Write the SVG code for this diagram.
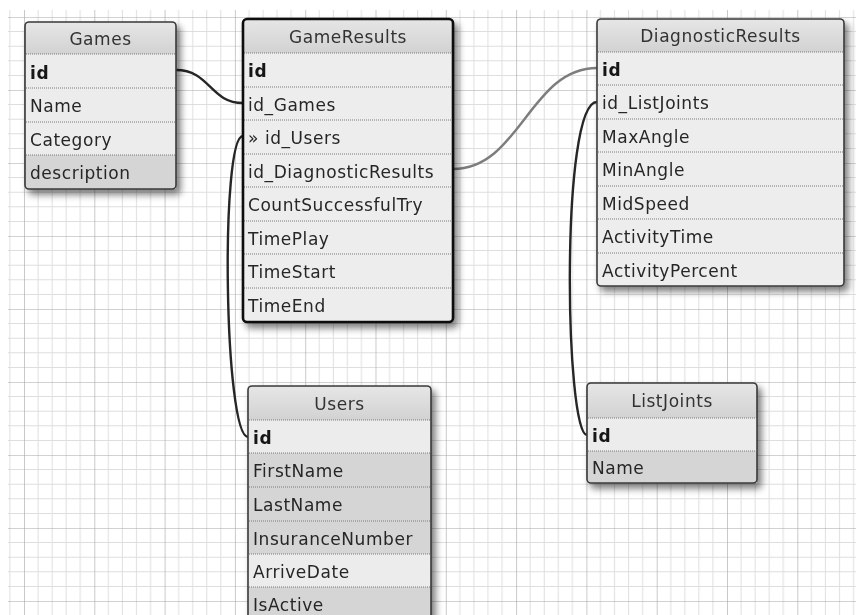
<svg xmlns="http://www.w3.org/2000/svg" width="856" height="615" viewBox="0 0 856 615">
  <style>
    text { font-family: "DejaVu Sans", Verdana, sans-serif; font-size: 17px; letter-spacing: 0.55px; fill: #262626; }
    .hd { text-anchor: middle; fill: #333; }
    .pk { font-weight: bold; fill: #161616; }
    .lt { fill: #ececec; }
    .dk { fill: #d5d5d5; }
    .sep { stroke: #7a7a7a; stroke-width: 1; stroke-dasharray: 1 1; }
    .frame { fill: none; stroke: #3a3a3a; stroke-width: 1.6; }
    .frame.sel { stroke: #111; stroke-width: 2.6; }
    .link { fill: none; stroke: #262626; stroke-width: 2.4; }
    .link.soft { stroke: #7d7d7d; }
  </style>
  <defs>
    <pattern id="grid" patternUnits="userSpaceOnUse" x="24" y="17" width="70.3" height="73">
      <g stroke="#dedede" stroke-width="1">
        <line x1="14.06" y1="0" x2="14.06" y2="73"/>
        <line x1="28.12" y1="0" x2="28.12" y2="73"/>
        <line x1="42.18" y1="0" x2="42.18" y2="73"/>
        <line x1="56.24" y1="0" x2="56.24" y2="73"/>
        <line x1="0" y1="14.6" x2="70.3" y2="14.6"/>
        <line x1="0" y1="29.2" x2="70.3" y2="29.2"/>
        <line x1="0" y1="43.8" x2="70.3" y2="43.8"/>
        <line x1="0" y1="58.4" x2="70.3" y2="58.4"/>
      </g>
      <g stroke="#a6a6a6" stroke-width="1.2">
        <line x1="0" y1="0" x2="0" y2="73"/>
        <line x1="0" y1="0" x2="70.3" y2="0"/>
      </g>
    </pattern>
    <linearGradient id="head" x1="0" y1="0" x2="0" y2="1">
      <stop offset="0" stop-color="#e6e6e6"/>
      <stop offset="1" stop-color="#d2d2d2"/>
    </linearGradient>
    <filter id="shadow" x="-10%" y="-10%" width="130%" height="130%">
      <feGaussianBlur in="SourceAlpha" stdDeviation="3.5"/>
      <feOffset dx="4" dy="5" result="b"/>
      <feComponentTransfer><feFuncA type="linear" slope="0.5"/></feComponentTransfer>
      <feMerge><feMergeNode/><feMergeNode in="SourceGraphic"/></feMerge>
    </filter>
  </defs>

  <!-- canvas -->
  <rect width="856" height="615" fill="#fff"/>
  <rect x="8" y="10" width="848" height="605" fill="url(#grid)"/>

  <!-- relations -->
  <g id="connectors">
    <path class="link" d="M176,70 C210,70 210,103 243,103"/>
    <path class="link" d="M243,136 C220,136 224,437 248,437"/>
    <path class="link soft" d="M453,169 C520,169 530,68 597,68"/>
    <path class="link" d="M597,102 C560,102 565,435 587,435"/>
  </g>

  <!-- Games -->
  <g id="Games" filter="url(#shadow)">
    <rect x="25" y="22" width="151" height="167" rx="4" fill="#ececec"/>
    <rect x="25" y="22" width="151" height="32" fill="url(#head)"/>
    <rect x="25" y="54" width="151" height="101" class="lt"/>
    <rect x="25" y="155" width="151" height="34" class="dk"/>
    <line class="sep" x1="26" y1="54" x2="175" y2="54"/>
    <line class="sep" x1="26" y1="88" x2="175" y2="88"/>
    <line class="sep" x1="26" y1="122" x2="175" y2="122"/>
    <line class="sep" x1="26" y1="155" x2="175" y2="155"/>
    <rect x="25" y="22" width="151" height="167" rx="4" class="frame"/>
    <text class="hd" x="100.5" y="45">Games</text>
    <text class="pk" x="30" y="79">id</text>
    <text x="30" y="112">Name</text>
    <text x="30" y="146">Category</text>
    <text x="30" y="179">description</text>
  </g>

  <!-- GameResults -->
  <g id="GameResults" filter="url(#shadow)">
    <rect x="243" y="19" width="210" height="303" rx="4" fill="#ededed"/>
    <rect x="243" y="19" width="210" height="34" fill="url(#head)"/>
    <line class="sep" x1="244" y1="53" x2="452" y2="53"/>
    <line class="sep" x1="244" y1="87" x2="452" y2="87"/>
    <line class="sep" x1="244" y1="120" x2="452" y2="120"/>
    <line class="sep" x1="244" y1="154" x2="452" y2="154"/>
    <line class="sep" x1="244" y1="187" x2="452" y2="187"/>
    <line class="sep" x1="244" y1="221" x2="452" y2="221"/>
    <line class="sep" x1="244" y1="254" x2="452" y2="254"/>
    <line class="sep" x1="244" y1="288" x2="452" y2="288"/>
    <rect x="243" y="19" width="210" height="303" rx="4" class="frame sel"/>
    <text class="hd" x="348" y="43">GameResults</text>
    <text class="pk" x="248" y="77">id</text>
    <text x="248" y="111">id_Games</text>
    <text x="248" y="144">» id_Users</text>
    <text x="248" y="178">id_DiagnosticResults</text>
    <text x="248" y="211">CountSuccessfulTry</text>
    <text x="248" y="245">TimePlay</text>
    <text x="248" y="278">TimeStart</text>
    <text x="248" y="312">TimeEnd</text>
  </g>

  <!-- DiagnosticResults -->
  <g id="DiagnosticResults" filter="url(#shadow)">
    <rect x="597" y="19" width="247" height="267" rx="4" fill="#ededed"/>
    <rect x="597" y="19" width="247" height="33" fill="url(#head)"/>
    <line class="sep" x1="598" y1="52" x2="843" y2="52"/>
    <line class="sep" x1="598" y1="85" x2="843" y2="85"/>
    <line class="sep" x1="598" y1="119" x2="843" y2="119"/>
    <line class="sep" x1="598" y1="152" x2="843" y2="152"/>
    <line class="sep" x1="598" y1="186" x2="843" y2="186"/>
    <line class="sep" x1="598" y1="219" x2="843" y2="219"/>
    <line class="sep" x1="598" y1="253" x2="843" y2="253"/>
    <rect x="597" y="19" width="247" height="267" rx="4" class="frame"/>
    <text class="hd" x="720.5" y="42">DiagnosticResults</text>
    <text class="pk" x="602" y="76">id</text>
    <text x="602" y="109">id_ListJoints</text>
    <text x="602" y="143">MaxAngle</text>
    <text x="602" y="176">MinAngle</text>
    <text x="602" y="210">MidSpeed</text>
    <text x="602" y="243">ActivityTime</text>
    <text x="602" y="277">ActivityPercent</text>
  </g>

  <!-- Users -->
  <g id="Users" filter="url(#shadow)">
    <rect x="248" y="386" width="183" height="240" rx="4" fill="#d5d5d5"/>
    <rect x="248" y="386" width="183" height="34" fill="url(#head)"/>
    <rect x="248" y="420" width="183" height="33" class="lt"/>
    <rect x="248" y="453" width="183" height="101" class="dk"/>
    <rect x="248" y="554" width="183" height="33" class="lt"/>
    <rect x="248" y="587" width="183" height="39" class="dk"/>
    <line class="sep" x1="249" y1="420" x2="430" y2="420"/>
    <line class="sep" x1="249" y1="453" x2="430" y2="453"/>
    <line class="sep" x1="249" y1="487" x2="430" y2="487"/>
    <line class="sep" x1="249" y1="521" x2="430" y2="521"/>
    <line class="sep" x1="249" y1="554" x2="430" y2="554"/>
    <line class="sep" x1="249" y1="587" x2="430" y2="587"/>
    <rect x="248" y="386" width="183" height="240" rx="4" class="frame"/>
    <text class="hd" x="339.5" y="410">Users</text>
    <text class="pk" x="253" y="444">id</text>
    <text x="253" y="477">FirstName</text>
    <text x="253" y="511">LastName</text>
    <text x="253" y="545">InsuranceNumber</text>
    <text x="253" y="578">ArriveDate</text>
    <text x="253" y="611">IsActive</text>
  </g>

  <!-- ListJoints -->
  <g id="ListJoints" filter="url(#shadow)">
    <rect x="587" y="383" width="170" height="100" rx="4" fill="#ececec"/>
    <rect x="587" y="383" width="170" height="35" fill="url(#head)"/>
    <rect x="587" y="418" width="170" height="33" class="lt"/>
    <rect x="587" y="451" width="170" height="32" class="dk"/>
    <line class="sep" x1="588" y1="418" x2="756" y2="418"/>
    <line class="sep" x1="588" y1="451" x2="756" y2="451"/>
    <rect x="587" y="383" width="170" height="100" rx="4" class="frame"/>
    <text class="hd" x="672" y="407">ListJoints</text>
    <text class="pk" x="592" y="442">id</text>
    <text x="592" y="474">Name</text>
  </g>
</svg>
